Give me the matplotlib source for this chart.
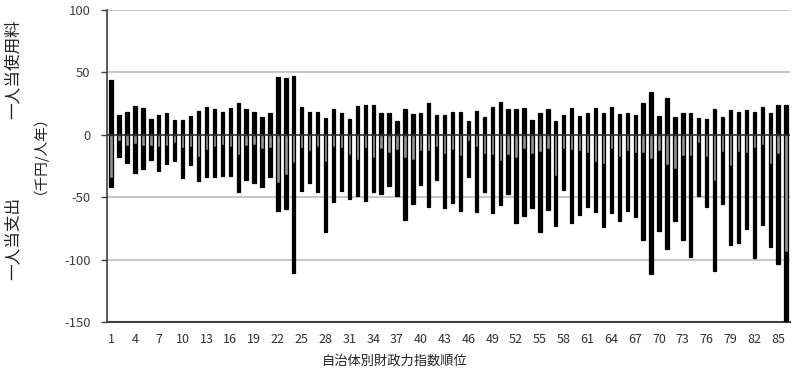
import matplotlib
matplotlib.use("Agg")
import matplotlib.pyplot as plt
import numpy as np

plt.rcParams['font.family'] = ['Noto Sans CJK JP', 'DejaVu Sans']

# Category index (municipality rank)
categories = list(range(1, 87))

# Per-capita usage fee (positive, thousand yen / person-year)
usage = [43.7, 16, 18, 23, 21, 12.8, 15.7, 17.3, 12, 12, 15, 19, 22.4, 20.5, 18.4, 21, 25.3,
         20.5, 17.9, 14.4, 17.3, 45.9, 45.6, 46.5, 21.9, 18.4, 17.9, 13.3, 20.3, 17, 12.5, 23.2,
         24, 24, 17, 17, 10.7, 20.5, 16.5, 17, 25.3, 16, 16, 18.4, 18.4, 10.9, 18.7, 13.9, 21.9,
         25.9, 20.3, 20.3, 21.3, 11.7, 17.3, 20.3, 10.7, 16, 21.3, 15.2, 17.3, 21.3, 17, 22.4,
         16.5, 17.6, 16, 25.6, 34.4, 15.2, 29.3, 13.9, 17, 17, 13.1, 12.3, 20.5, 14.4, 19.7,
         18.1, 19.7, 17.9, 21.9, 17.3, 23.5, 23.5]

# Per-capita expenditure, first (gray) component, negative
exp_gray = [-34.5, -5.3, -9, -7.5, -9, -9, -9.6, -9, -6.7, -10.7, -9.6, -17.6, -12.3, -9.6, -8,
            -9.6, -16.5, -9, -8.5, -11.2, -10.7, -39, -32.2, -22.7, -10.7, -12.8, -10.1, -22.1,
            -9.6, -10.7, -16.3, -20, -10.7, -18.7, -11.7, -15, -12.3, -18.7, -20, -13.3, -12.8,
            -10.1, -15.8, -12.3, -16.8, -5.3, -10.1, -15.5, -16.3, -21.3, -16.5, -18.7, -11.5,
            -15.5, -14.1, -11.5, -33.3, -11.7, -12.3, -12.8, -15, -22.1, -23.5, -11.7, -18,
            -12.8, -14.4, -15, -19.5, -13.3, -24.5, -27.7, -17.1, -17.1, -6.4, -18.1, -36.8,
            -13.9, -24.8, -14.1, -14.4, -10.7, -8, -23.5, -15.5, -94]

# Per-capita total expenditure, negative
exp_total = [-42, -18, -22.4, -30.4, -27.7, -20.3, -28.8, -23.7, -21.3, -34.7, -24.5, -37.4,
             -34, -34, -33.3, -33.3, -45.9, -36.3, -38.9, -41.6, -34, -61, -59.3, -110.5,
             -44.8, -38.7, -45.6, -78.1, -53.6, -45.3, -51.5, -48.8, -52.8, -46.1, -47.5, -41,
             -48.8, -68.3, -55.5, -40, -58.1, -36, -58.5, -54.4, -61.3, -33.6, -61.9, -46.1,
             -62.9, -56.5, -47.5, -71, -64.8, -59, -78.1, -60.3, -72.8, -44.3, -71, -64.3,
             -57.6, -62.1, -74.1, -62.7, -69, -61.3, -66.1, -84.3, -111.5, -77.3, -91.5, -68.8,
             -84.3, -97.6, -48.8, -58.1, -108.8, -55.5, -88, -86.4, -75.5, -98.7, -72.3, -90.1,
             -103.5, -155]

yticks = [100, 50, 0, -50, -100, -150]
xtick_labels = [str(i) for i in range(1, 87, 3)]

x = np.array(categories)
usage = np.array(usage)
exp_gray = np.array(exp_gray)
exp_total = np.array(exp_total)
exp_black = exp_total - exp_gray

fig = plt.figure(figsize=(7.94, 3.69), dpi=100)
ax = fig.add_axes([0.135, 0.127, 0.860, 0.847])

w = 0.42
ax.bar(x, usage, width=w, color='black', edgecolor='black', linewidth=0.9, zorder=3)
ax.bar(x, exp_gray, width=w, color='#8c8c8c', edgecolor='black', linewidth=0.9, zorder=3)
ax.bar(x, exp_black, bottom=exp_gray, width=w, color='black', edgecolor='black',
       linewidth=0.9, zorder=3)

ax.set_ylim(-150, 100)
ax.set_xlim(0.5, 86.5)
ax.set_yticks(yticks)
ax.set_yticklabels([str(v) for v in yticks], fontsize=9.5, color='#404040')
ax.set_xticks(list(range(1, 87, 3)))
ax.set_xticklabels(xtick_labels, fontsize=9, color='#303030')
ax.tick_params(axis='x', length=0, pad=8)
ax.tick_params(axis='y', length=4, width=1, color='#404040', direction='out', pad=8)

for v in [100, 50, -50, -100]:
    ax.axhline(v, color='#bdbdbd', linewidth=1.2, zorder=1)
ax.axhline(0, color='#303030', linewidth=1.2, zorder=4)

for s in ['top', 'right']:
    ax.spines[s].set_visible(False)
ax.spines['left'].set_color('#404040')
ax.spines['left'].set_linewidth(1.2)
ax.spines['bottom'].set_color('#404040')
ax.spines['bottom'].set_linewidth(1.5)

fig.text(0.016, 1 - 69 / 369, '一人当使用料', rotation=90, ha='center', va='center',
         fontsize=12, color='#202020')
fig.text(0.016, 1 - 238 / 369, '一人当支出', rotation=90, ha='center', va='center',
         fontsize=12, color='#202020')
fig.text(0.040, 1 - 147 / 369, '（千円/人年）', rotation=90, ha='center', va='center',
         fontsize=10.5, color='#202020')
fig.text(0.497, 0.003, '自治体別財政力指数順位', ha='center', va='bottom',
         fontsize=9.5, color='#202020')

fig.savefig('out.png', dpi=100)
